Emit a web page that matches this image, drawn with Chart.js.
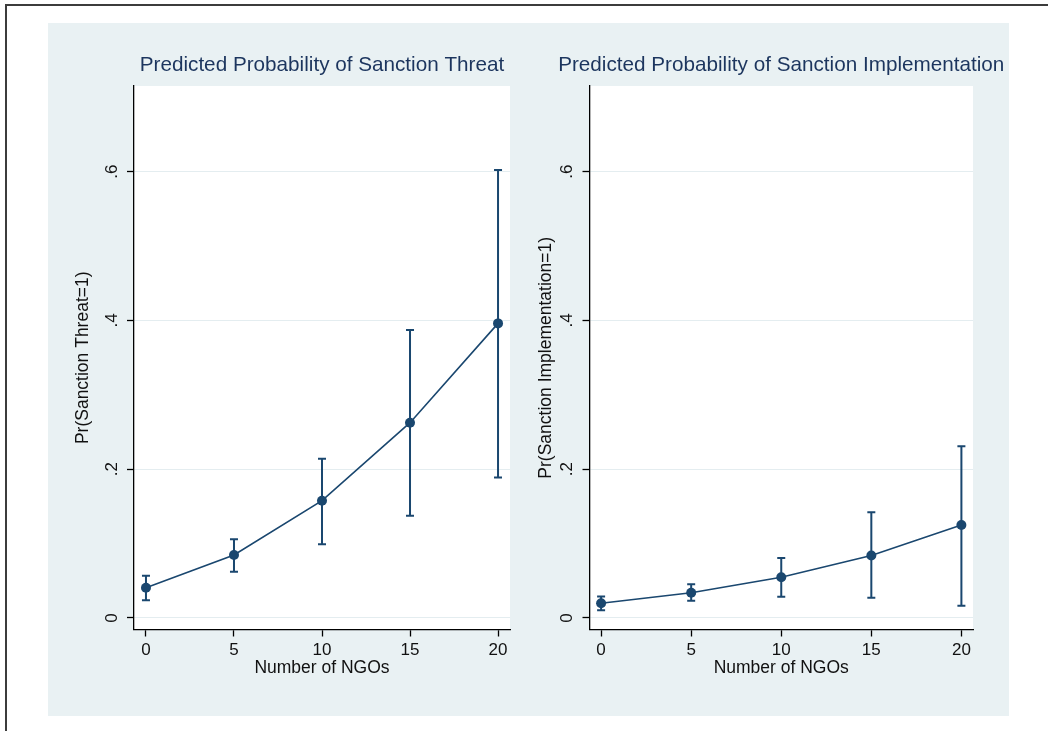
<!DOCTYPE html>
<html>
<head>
<meta charset="utf-8">
<script src="https://cdn.jsdelivr.net/npm/chart.js@4.4.1/dist/chart.umd.min.js"></script>
<style>
  html, body { margin: 0; padding: 0; background: #fff; }
  body { width: 1048px; height: 731px; position: relative; overflow: hidden; }
  #frame { position: absolute; left: 5px; top: 4px; right: -10px; bottom: -10px;
           border-left: 2px solid #3c3c3c; border-top: 2px solid #3c3c3c; }
  #panel { position: absolute; left: 48px; top: 23px; width: 961px; height: 693px; background: #e9f1f3; }
  canvas { position: absolute; top: 23px; }
  #c1 { left: 48px; }
  #c2 { left: 528px; }
</style>
</head>
<body>
<div id="frame"></div>
<div id="panel"></div>
<canvas id="c1" width="480" height="693"></canvas>
<canvas id="c2" width="481" height="693"></canvas>
<script>
// predicted probabilities with 95% CIs
const ngoCounts = [0, 5, 10, 15, 20];
const threatProb = [0.0407, 0.0847, 0.1577, 0.2625, 0.396];
const threatLower = [0.0238, 0.0622, 0.0991, 0.1375, 0.189];
const threatUpper = [0.0569, 0.106, 0.2141, 0.387, 0.602];
const implProb = [0.0199, 0.034, 0.0548, 0.0841, 0.125];
const implLower = [0.0105, 0.0231, 0.0285, 0.0272, 0.0163];
const implUpper = [0.029, 0.0453, 0.0806, 0.142, 0.231];

const xTicks = [0, 5, 10, 15, 20];
const yTicks = [0, 0.2, 0.4, 0.6];
const yTickLabels = ['0', '.2', '.4', '.6'];

const navy = '#1a476f';
const fontFamily = 'Arial, "Liberation Sans", sans-serif';

Chart.defaults.font.family = fontFamily;

// white plot region + capped error bars drawn through the chart scales
const plotBits = {
	id: 'plotBits',
	afterLayout(chart) {
		// let the title run wider than the plot region, still centred on it
		const t = chart.titleBlock;
		if (t) { t.left -= 60; t.right += 60; }
	},
	beforeDraw(chart) {
		const a = chart.chartArea;
		const ctx = chart.ctx;
		ctx.save();
		ctx.fillStyle = '#fff';
		ctx.fillRect(a.left, a.top, a.right - a.left, a.bottom - a.top);
		ctx.restore();
	},
	beforeDatasetsDraw(chart, args, opts) {
		const xs = chart.scales.x, ys = chart.scales.y;
		const ctx = chart.ctx;
		ctx.save();
		ctx.strokeStyle = navy;
		ctx.lineWidth = 2;
		opts.lower.forEach((lo, i) => {
			const x = xs.getPixelForValue(ngoCounts[i]);
			const y1 = ys.getPixelForValue(lo);
			const y2 = ys.getPixelForValue(opts.upper[i]);
			ctx.beginPath();
			ctx.moveTo(x, y1); ctx.lineTo(x, y2);
			ctx.moveTo(x - 4, y1); ctx.lineTo(x + 4, y1);
			ctx.moveTo(x - 4, y2); ctx.lineTo(x + 4, y2);
			ctx.stroke();
		});
		ctx.restore();
	}
};

function makeChart(id, title, yTitle, probs, lower, upper, lay) {
	return new Chart(document.getElementById(id), {
		type: 'line',
		data: {
			datasets: [{
				data: ngoCounts.map((n, i) => ({ x: n, y: probs[i] })),
				borderColor: navy,
				borderWidth: 1.6,
				pointRadius: 5,
				pointBackgroundColor: navy,
				pointBorderWidth: 0,
				tension: 0,
			}],
		},
		plugins: [plotBits],
		options: {
			responsive: false,
			animation: false,
			devicePixelRatio: 1,
			layout: { padding: { left: 0, top: 0, right: lay.right, bottom: 0 } },
			plugins: {
				legend: { display: false },
				tooltip: { enabled: false },
				plotBits: { lower: lower, upper: upper },
				title: {
					display: true,
					text: title,
					fullSize: false,
					color: '#1c355e',
					font: { size: 20.7, weight: 'normal', family: fontFamily },
					padding: { top: 30.1, bottom: 8.1 },
				},
			},
			scales: {
				x: {
					type: 'linear',
					min: lay.xMin,
					max: lay.xMax,
					afterBuildTicks: (s) => { s.ticks = xTicks.map((v) => ({ value: v })); },
					afterFit: (s) => { s.height = 86.5; },
					border: { display: true, color: '#000', width: 1.3 },
					grid: { drawOnChartArea: false, drawTicks: true, tickLength: 7, tickColor: '#000', tickWidth: 1.3 },
					ticks: { color: '#111', padding: 3.5, maxRotation: 0, font: { size: 17 } },
					title: {
						display: true,
						text: 'Number of NGOs',
						color: '#111',
						font: { size: 17.5 },
						padding: { top: 0, bottom: 37 },
					},
				},
				y: {
					type: 'linear',
					min: -0.01546,
					max: 0.715,
					afterBuildTicks: (s) => { s.ticks = yTicks.map((v) => ({ value: v })); },
					afterFit: (s) => { s.width = lay.yWidth; },
					border: { display: true, color: '#000', width: 1.3 },
					grid: { color: '#e4edf0', lineWidth: 1, drawTicks: true, tickLength: 7, tickColor: '#000', tickWidth: 1.3 },
					ticks: {
						color: '#111',
						padding: 8,
						minRotation: 90,
						maxRotation: 90,
						crossAlign: 'center',
						font: { size: 17 },
						callback: (v) => yTickLabels[yTicks.indexOf(v)] ?? '',
					},
					title: {
						display: true,
						text: yTitle,
						color: '#111',
						font: { size: 17.5 },
						padding: { top: lay.yTitlePad, bottom: 0 },
					},
				},
			},
		},
	});
}

makeChart('c1', 'Predicted Probability of Sanction Threat', 'Pr(Sanction Threat=1)',
	threatProb, threatLower, threatUpper,
	{ right: 18, xMin: -0.68, xMax: 20.68, yWidth: 86, yTitlePad: 25 });
makeChart('c2', 'Predicted Probability of Sanction Implementation', 'Pr(Sanction Implementation=1)',
	implProb, implLower, implUpper,
	{ right: 36, xMin: -0.644, xMax: 20.644, yWidth: 61.5, yTitlePad: 7.5 });
</script>
</body>
</html>
